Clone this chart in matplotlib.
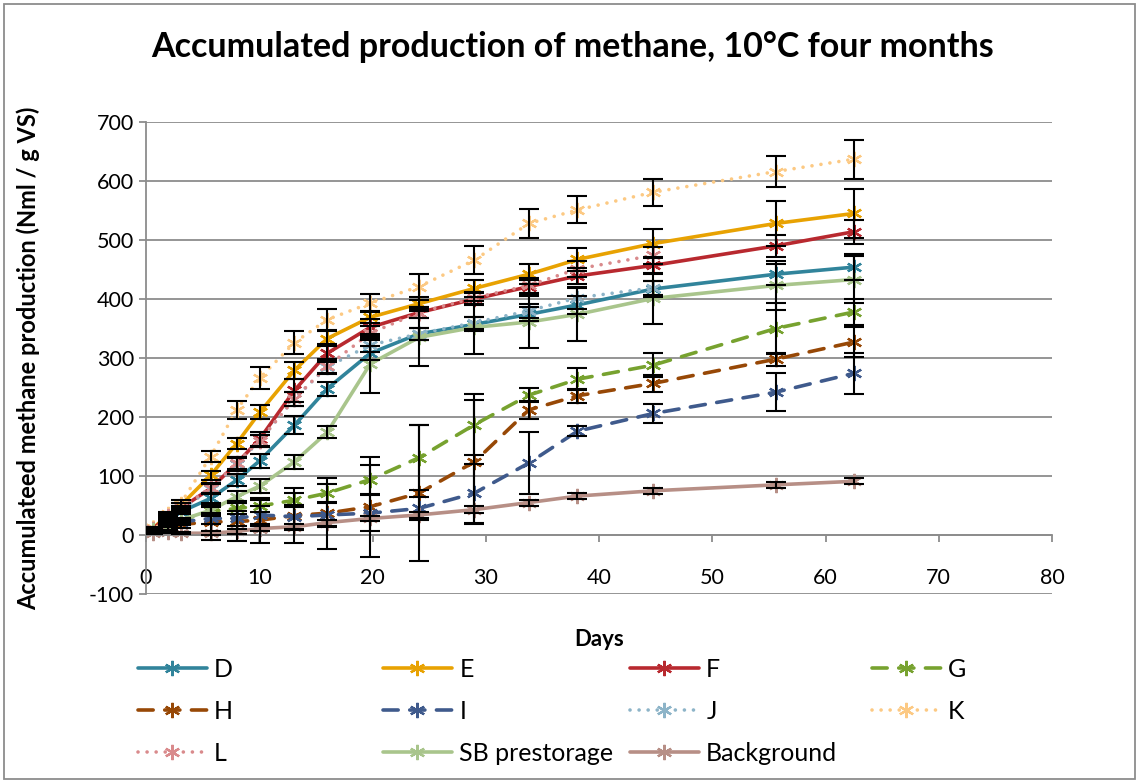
import matplotlib
matplotlib.use('Agg')
import matplotlib.pyplot as plt
import matplotlib.patches as patches

plt.rcParams['font.family'] = ['Lato', 'DejaVu Sans']
plt.rcParams['axes.unicode_minus'] = False

# sampling days
days = [0.65, 1.95, 3.05, 5.7, 8.0, 10.05, 13.1, 16.0, 19.8, 24.1, 29.0, 33.8, 38.1, 44.8, 55.6, 62.5]
days_short = days[:14]

# accumulated methane (Nml / g VS) and error bars
d_vals = [10, 25, 39, 62, 93, 126, 186, 248, 308, 341, 357, 374, 390, 417, 442, 454]
d_err = [1, 2, 4, 8, 10, 12, 15, 12, 12, 10, 12, 12, 15, 14, 18, 22]
e_vals = [12, 34, 50, 101, 155, 208, 279, 333, 369, 392, 418, 442, 467, 494, 528, 545]
e_err = [1, 2, 5, 8, 9, 12, 14, 12, 10, 12, 14, 17, 19, 25, 38, 42]
f_vals = [11, 32, 45, 79, 121, 163, 245, 308, 352, 377, 400, 421, 439, 457, 490, 514]
f_err = [1, 2, 5, 8, 12, 12, 20, 15, 14, 10, 10, 12, 14, 14, 18, 20]
g_vals = [8, 18, 25, 40, 45, 49, 59, 71, 94, 131, 187, 237, 264, 288, 350, 378]
g_err = [1, 2, 4, 8, 10, 10, 12, 15, 25, 55, 52, 12, 19, 21, 44, 22]
h_vals = [6, 12, 18, 22, 23, 25, 33, 37, 48, 71, 124, 212, 236, 257, 298, 327]
h_err = [1, 3, 6, 30, 34, 38, 47, 60, 85, 115, 105, 15, 12, 14, 11, 25]
i_vals = [7, 15, 22, 28, 28, 34, 31, 34, 37, 45, 71, 122, 176, 206, 242, 274]
i_err = [1, 2, 5, 10, 12, 15, 20, 20, 30, 20, 50, 53, 9, 16, 32, 35]
j_vals = [10, 28, 42, 78, 120, 160, 231, 285, 322, 341, 360, 380, 402, 419]
j_err = [1, 2, 4, 8, 10, 10, 12, 12, 12, 10, 10, 12, 19, 12]
k_vals = [12, 36, 53, 133, 212, 266, 326, 365, 393, 421, 466, 528, 551, 581, 616, 637]
k_err = [1, 3, 6, 10, 15, 18, 19, 18, 15, 22, 23, 24, 23, 23, 26, 33]
l_vals = [11, 33, 46, 80, 122, 160, 231, 286, 342, 377, 402, 423, 451, 474]
l_err = [1, 2, 4, 8, 10, 10, 12, 12, 12, 10, 10, 12, 14, 14]
sb_vals = [8, 15, 25, 42, 65, 83, 124, 174, 290, 335, 352, 361, 374, 401, 423, 433]
sb_err = [1, 2, 4, 8, 10, 12, 12, 10, 50, 48, 45, 44, 45, 43, 42, 40]
bkg_vals = [3, 5, 3, 3, 6, 11, 14, 21, 28, 34, 43, 55, 66, 75, 85, 91]
bkg_err = [1, 1, 2, 3, 4, 4, 5, 5, 5, 5, 6, 5, 5, 5, 5, 5]

solid = 'solid'
dash = (0, (4.2, 3.2))
dot = (0, (0.01, 2.5))

series = [
    ('D', days, d_vals, d_err, '#31849B', solid),
    ('E', days, e_vals, e_err, '#E8A202', solid),
    ('F', days, f_vals, f_err, '#B8292F', solid),
    ('G', days, g_vals, g_err, '#77A22F', dash),
    ('H', days, h_vals, h_err, '#974806', dash),
    ('I', days, i_vals, i_err, '#3F5A8C', dash),
    ('J', days_short, j_vals, j_err, '#8DB4C8', dot),
    ('K', days, k_vals, k_err, '#FCC983', dot),
    ('L', days_short, l_vals, l_err, '#D98A8C', dot),
    ('SB prestorage', days, sb_vals, sb_err, '#A9C58C', solid),
    ('Background', days, bkg_vals, bkg_err, '#B78F86', solid),
]

fig = plt.figure(figsize=(11.39, 7.83), dpi=100)
ax = fig.add_axes([146 / 1139, 1 - 594 / 783, (1052 - 146) / 1139, (594 - 122) / 783])

handles = {}
for name, x, y, err, color, ls in series:
    ax.errorbar(x, y, yerr=err, fmt='none', ecolor='black', elinewidth=1.5,
                capsize=7, capthick=1.5, zorder=3)
    line, = ax.plot(x, y, color=color, linestyle=ls, linewidth=2.6,
                    marker=(6, 2, 0), markersize=11, markeredgewidth=1.6,
                    dash_capstyle='round', solid_capstyle='round', zorder=2)
    handles[name] = line

ax.set_xlim(0, 80)
ax.set_ylim(-100, 700)
ax.set_xticks(range(0, 81, 10))
ax.set_yticks(range(-100, 701, 100))
ax.yaxis.grid(True, color='#8C8C8C', linewidth=1.3)
ax.set_axisbelow(True)
for side in ['top', 'right']:
    ax.spines[side].set_visible(False)
ax.spines['bottom'].set_position(('data', 0))
ax.spines['bottom'].set_color('#8C8C8C')
ax.spines['bottom'].set_linewidth(1.3)
ax.spines['left'].set_color('#8C8C8C')
ax.spines['left'].set_linewidth(1.3)
ax.tick_params(axis='both', colors='#8C8C8C', labelcolor='black', labelsize=15.5,
               width=1.3, length=5)
ax.tick_params(axis='x', pad=19)

ax.set_xlabel('Days', fontsize=16, fontweight='bold')
ax.xaxis.set_label_coords(0.5, -0.075)
ax.set_ylabel('Accumulateed methane production (Nml / g VS)', fontsize=17,
              fontweight='bold')
ax.yaxis.set_label_coords(-0.117, 0.5)

fig.text(0.503, 1 - 47 / 783, 'Accumulated production of methane, 10°C four months',
         ha='center', va='center', fontsize=24.5, fontweight='bold')

# legend laid out in evenly spaced columns like the original
columns = [['D', 'H', 'L'], ['E', 'I', 'SB prestorage'], ['F', 'J', 'Background'], ['G', 'K']]
col_x = [128, 373, 620, 862]
for cx, names in zip(col_x, columns):
    fig.legend([handles[n] for n in names], names, loc='upper left',
               bbox_to_anchor=(cx / 1139, 1 - 648 / 783), frameon=False,
               fontsize=18, handlelength=2.75, handletextpad=0.3,
               labelspacing=0.76, numpoints=1, borderaxespad=0)

fig.patches.append(patches.Rectangle((4 / 1139, 4 / 783), 1 - 8 / 1139, 1 - 8 / 783,
                                     transform=fig.transFigure, fill=False,
                                     edgecolor='#8C8C8C', linewidth=1.3))

fig.savefig('out.png', dpi=100)
